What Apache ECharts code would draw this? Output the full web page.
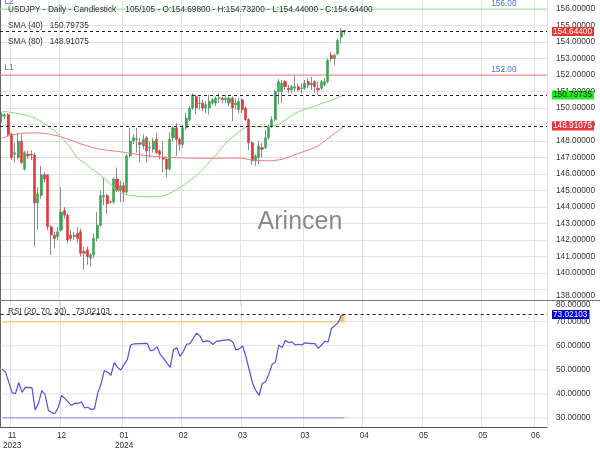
<!DOCTYPE html>
<html><head><meta charset="utf-8">
<script src="https://cdn.jsdelivr.net/npm/echarts@6/dist/echarts.min.js"></script>
<style>html,body{margin:0;padding:0;background:#fff}#c{width:600px;height:450px}</style>
</head><body><div id="c"></div>
<script>
// ---------- data ----------
const opens  = [149.5,149.5,149.6,148.4,147.2,147.0,148.0,146.3,147.2,147.2,147.15,144.25,144.7,145.95,145.95,142.8,142.3,142.2,142.6,143.8,143.5,142.3,142.2,142.4,142.5,141.3,141.4,140.9,141.1,142.1,142.9,144.6,144.7,144.32,144.3,145.7,145.0,145.3,144.9,147.1,148.0,148.1,147.9,147.7,148.2,147.6,147.5,148.1,147.4,147.0,146.9,146.3,148.2,148.8,148.1,147.8,148.8,149.3,150.0,150.7,150.28,150.3,150.0,150.0,150.3,150.3,150.58,150.6,150.5,150.3,150.6,150.2,149.9,150.5,150.0,149.3,147.9,146.8,147.0,147.6,147.6,148.2,148.9,149.3,151.0,151.0,151.6,151.2,151.1,151.2,151.3,151.18,151.2,151.6,151.4,151.6,151.2,151.2,151.4,151.6,153.2,153.0,153.3,154.3,154.698];
const closes = [149.6,149.6,148.4,147.0,147.3,148.0,146.7,147.3,147.1,147.15,144.25,144.8,145.95,145.7,142.8,142.3,142.1,142.5,143.7,143.5,142.0,142.1,142.3,142.1,141.2,141.2,141.0,141.1,142.1,142.9,144.7,144.7,144.2,144.3,145.7,145.0,145.3,144.9,147.1,148.0,148.2,148.15,147.8,148.1,147.4,147.65,148.0,147.3,147.2,146.9,146.3,148.1,148.8,148.1,147.8,148.8,149.4,150.0,150.8,150.0,150.3,150.0,150.2,150.4,150.5,150.6,150.62,150.5,150.6,150.6,150.0,150.3,150.4,149.9,149.3,147.9,146.8,147.1,147.7,147.5,148.2,148.9,149.3,151.0,151.6,151.5,151.3,151.1,151.3,151.3,151.1,151.22,151.5,151.4,151.5,151.3,151.1,151.6,151.6,152.9,153.0,153.2,154.1,154.7,154.644];
const lows   = [149.1,149.3,148.3,146.85,146.7,146.9,146.6,146.2,146.9,146.85,141.6,142.6,144.5,145.5,142.6,141.1,141.5,142.0,142.5,143.3,141.8,141.9,142.0,141.8,141.0,140.2,140.5,140.4,140.9,141.9,142.8,144.1,143.6,144.2,144.2,144.9,144.3,144.3,144.8,147.0,147.8,147.3,146.7,147.5,146.7,147.0,147.3,147.2,146.9,146.1,145.8,146.2,148.0,147.1,147.4,147.6,148.7,149.2,149.9,149.6,149.9,149.8,149.7,149.6,150.2,150.1,150.3,150.3,150.3,150.1,149.2,149.9,149.7,149.7,149.2,147.45,146.55,146.5,146.6,147.0,147.5,148.1,148.8,149.2,150.2,150.3,151.1,150.9,150.9,151.0,151.0,150.9,151.1,151.2,151.1,150.9,150.8,151.1,151.3,151.5,152.8,152.6,153.2,153.9,154.44];
const highs  = [149.75,149.7,149.7,148.5,147.9,148.5,148.4,147.4,147.4,147.45,147.3,145.2,146.5,146.1,146.0,142.9,142.5,142.8,145.2,144.0,143.6,142.6,142.5,142.8,142.7,141.6,141.6,141.2,142.4,143.7,145.0,145.8,144.8,144.4,145.8,146.4,145.6,145.5,147.2,148.8,148.4,148.8,148.2,148.4,148.3,148.0,148.2,148.5,147.5,148.0,147.0,148.5,148.9,149.1,148.2,149.0,149.7,150.1,150.9,150.8,150.7,150.5,150.4,150.8,150.6,150.7,150.9,150.7,150.8,150.7,150.7,150.6,150.6,150.6,150.1,149.4,148.0,147.2,148.0,147.9,148.7,149.0,149.5,151.1,151.75,151.7,151.7,151.4,151.4,152.0,151.5,151.5,151.7,151.8,151.9,151.7,151.6,151.7,151.8,153.0,153.4,153.3,154.2,154.85,154.732];

const sma40Idx = [0,9,14,18,21,23,25,27,30,32,35,37,40,45,49,52,56,60,65,68,72,75,81,84,87,90,95,100,104];
const sma40Val = [149.82,149.48,148.92,148.26,147.55,146.97,146.7,146.36,145.94,145.6,145.0,144.8,144.68,144.62,144.68,144.93,145.45,146.06,147.15,147.88,148.55,148.87,148.88,149.0,149.4,149.78,150.12,150.48,150.79735];
const sma80Idx = [0,3,9,13,18,25,30,36,45,53,63,72,76,80,85,90,95,97,100,102,104];
const sma80Val = [148.16,148.36,148.5,148.46,148.26,147.76,147.5,147.35,147.09,146.99,146.95,146.97,146.85,146.8,146.89,147.25,147.6,147.85,148.3,148.6,148.91075];

const rsiIdx = [0,1,3,4,5,6,7,9,10,11,12,13,14,15,16,17,18,19,21,22,23,24,25,26,27,28,29,30,31,32,33,34,35,36,38,39,40,44,45,46,47,48,49,51,52,53,54,55,56,57,59,60,61,62,63,64,65,67,69,70,71,72,73,74,76,77,78,79,80,81,82,83,84,85,86,87,88,89,90,91,92,94,95,96,97,98,99,100,101,102,103,104];
const rsiVal = [50.3,49.0,40.4,40.1,44.6,40.6,42.7,42.6,33.3,36.1,41.3,39.7,33.1,32.2,31.8,34.4,39.3,38.1,35.1,36.1,36.0,36.7,34.1,34.4,33.5,33.7,40.4,44.1,49.7,49.0,47.7,53.0,51.0,49.9,54.3,60.3,60.8,61.0,57.9,58.3,59.6,56.3,54.7,51.0,58.3,59.2,55.6,57.6,60.6,60.9,65.2,64.2,61.6,62.0,61.8,60.5,61.8,62.2,62.5,61.6,58.3,58.7,59.9,55.6,44.6,41.4,39.3,44.3,45.0,48.3,52.3,53.2,60.3,59.2,62.2,61.3,61.6,60.3,60.6,60.3,61.2,60.9,60.9,58.9,60.3,61.8,61.6,67.2,68.3,69.5,72.6,73.02103];

const SMA40_LAST = 150.79735, SMA80_LAST = 148.91075, RSI_LAST = 73.02103;
const LEVEL_L2 = 156.00, LEVEL_L1 = 152.00;
const RSI_UPPER = 70, RSI_LOWER = 30;

const N_CAT = 166;
const tickIdx  = [3, 18, 37, 55, 73, 92, 110, 128, 146, 162];
const tickText = ['11\n2023','12','01\n2024','02','03','03','04','05','05','06'];
const priceTicks = [139,140,141,142,143,144,145,146,147,148,149,150,151,152,153,154,155,156];
const rsiTicks = [30,40,50,60,70];
const PRICE_AXIS_MIN = 138, PRICE_AXIS_MAX = 156.55, PRICE_VISIBLE_MIN = 138.36;
const RSI_MIN = 26.2, RSI_MAX = 78.6;

// ---------- build ----------
const last = opens.length - 1;
const cats = Array.from({length: N_CAT}, (_, i) => String(i));
const tickSet = new Set(tickIdx);
const isTick = (i) => tickSet.has(i);
const candleData = opens.map((o, i) => [o, closes[i], lows[i], highs[i]]);
const bodyData = opens.map((o, i) => [o, closes[i], Math.min(o, closes[i]), Math.max(o, closes[i])]);
const zip = (a, b) => a.map((v, i) => [v, b[i]]);
const rsiPairs = zip(rsiIdx, rsiVal);
const obPairs = rsiPairs.filter(p => p[0] >= 102);

const FS = 8.25, TXT = '#333', FONT = '"Liberation Sans", Arial, sans-serif';
const GRID = '#e3e3e3', BLUE = '#4a6fdc';
const dash = {type: [3, 3], color: '#222', width: 1};
const tag = (bg, fg) => ({show: true, position: 'end', distance: 5, backgroundColor: bg, color: fg,
  fontSize: FS, fontFamily: FONT, padding: [1, 2, 0, 1], formatter: p => Number(p.value).toFixed(5)});
// split lines: 138 (hidden under the RSI panel edge) and the top edge are transparent
const nPriceLines = Math.floor(PRICE_AXIS_MAX) - PRICE_AXIS_MIN + 2;
const priceGridColors = Array.from({length: nPriceLines}, (_, k) => (k === 0 || k === nPriceLines - 1) ? 'rgba(0,0,0,0)' : GRID);

const title = 'USDJPY - Daily - Candlestick    ' + opens.length + '/' + opens.length +
  ' - O:' + opens[last].toFixed(5) + ' - H:' + highs[last].toFixed(5) +
  ' - L:' + lows[last].toFixed(5) + ' - C:' + closes[last].toFixed(5);

const txt = (x, y, text, color) => ({type: 'text', x, y, z: 10, silent: true,
  style: {text, fill: color || TXT, fontSize: FS, fontFamily: FONT, verticalAlign: 'middle'}});

// full-width horizontal rule on a hidden 0..1 x axis (xAxis 3 = RSI panel)
const hRule = (xi, yi, v, color) => ({type: 'line', xAxisIndex: xi, yAxisIndex: yi, z: 1, silent: true,
  data: [[0, v], [1, v]], showSymbol: false, lineStyle: {color, width: 1, type: 'solid', opacity: 1}});

const lvlLabel = (text, pos, dist, dy) => ({show: true, position: pos, distance: dist, offset: [0, dy],
  color: BLUE, fontSize: FS, fontFamily: FONT, formatter: text});
const levelSeries = (v, color, sideText) => ({type: 'line', xAxisIndex: 2, yAxisIndex: 0, z: 1, silent: true,
  symbol: 'rect', symbolSize: 1, showSymbol: true, showAllSymbol: true, clip: false,
  lineStyle: {color, width: 1, type: 'solid'}, itemStyle: {color: 'rgba(255,255,255,0)'},
  data: [
    {value: [0, v], label: lvlLabel(sideText, 'right', 4, -7)},
    {value: [1, v], label: lvlLabel(v.toFixed(2), 'left', 30, -5)}
  ]});

const chart = echarts.init(document.getElementById('c'), null, {renderer: 'canvas'});
chart.setOption({
  animation: false,
  textStyle: {fontFamily: FONT},
  grid: [
    // 156.55 at y=0 and 138 at y=306 (just under the RSI panel edge at 300)
    {left: 0, right: 53, top: 0, height: 306},
    {left: 0, right: 53, top: 301, height: 131}
  ],
  xAxis: [
    {type: 'category', gridIndex: 0, data: cats, boundaryGap: true,
     axisLine: {show: false}, axisTick: {show: false}, axisLabel: {show: false},
     splitLine: {show: true, interval: isTick, lineStyle: {color: GRID, width: 1}}},
    {type: 'category', gridIndex: 1, data: cats, boundaryGap: true,
     axisLine: {show: true, lineStyle: {color: '#555', width: 1}}, axisTick: {show: false},
     axisLabel: {interval: isTick, formatter: (v, i) => { const k = tickIdx.indexOf(i); return k >= 0 ? tickText[k] : ''; },
       fontSize: FS, color: TXT, lineHeight: 9.5, margin: 4},
     splitLine: {show: true, interval: isTick, lineStyle: {color: GRID, width: 1}}},
    {type: 'value', gridIndex: 0, min: 0, max: 1, show: false},
    {type: 'value', gridIndex: 1, min: 0, max: 1, show: false}
  ],
  yAxis: [
    {type: 'value', gridIndex: 0, position: 'right', min: PRICE_AXIS_MIN, max: PRICE_AXIS_MAX, interval: 1, z: 0,
     axisLine: {show: true, lineStyle: {color: '#666', width: 1}},
     axisTick: {show: false},
     axisLabel: {customValues: [PRICE_VISIBLE_MIN].concat(priceTicks), formatter: v => Math.round(v).toFixed(5),
       fontSize: FS, color: TXT, margin: 9, showMinLabel: true, hideOverlap: false, verticalAlignMinLabel: 'bottom'},
     splitLine: {show: true, lineStyle: {color: priceGridColors, width: 1}}},
    {type: 'value', gridIndex: 1, position: 'right', min: RSI_MIN, max: RSI_MAX, z: 0,
     axisLine: {show: true, lineStyle: {color: '#666', width: 1}},
     axisTick: {show: false},
     axisLabel: {customValues: rsiTicks.concat([RSI_MAX]), formatter: v => (Math.round(v / 10) * 10).toFixed(5),
       fontSize: FS, color: TXT, margin: 9, showMaxLabel: true, hideOverlap: false, verticalAlignMaxLabel: 'top'},
     splitLine: {show: false}}
  ],
  graphic: [
    {type: 'line', silent: true, z: 5, shape: {x1: 0, y1: 300.5, x2: 600, y2: 300.5}, style: {stroke: '#777', lineWidth: 1}},
    {type: 'text', x: 300, y: 222, z: 1, silent: true,
     style: {text: 'Arincen', fill: '#8a8a8a', fontSize: 25, fontFamily: FONT, align: 'center', verticalAlign: 'middle'}},
    txt(8, 10, title),
    txt(8, 25.7, 'SMA (40)   ' + SMA40_LAST.toFixed(5)),
    txt(8, 41.7, 'SMA (80)   ' + SMA80_LAST.toFixed(5)),
    txt(8, 311.7, 'RSI (20, 70, 30)    ' + RSI_LAST.toFixed(5))
  ],
  series: [].concat(
    rsiTicks.map(v => hRule(3, 1, v, GRID)),
    [
    levelSeries(LEVEL_L2, '#98e598', 'L2'),
    levelSeries(LEVEL_L1, '#ef8080', 'L1'),
    {type: 'candlestick', name: 'wick', xAxisIndex: 0, yAxisIndex: 0, data: candleData, barWidth: 1, silent: true, z: 2,
     itemStyle: {color: '#8c8c8c', color0: '#8c8c8c', borderColor: '#8c8c8c', borderColor0: '#8c8c8c', borderWidth: 1}},
    {type: 'candlestick', name: 'body', xAxisIndex: 0, yAxisIndex: 0, data: bodyData, barWidth: 2.6, silent: true, z: 3,
     itemStyle: {color: '#3aa655', color0: '#e0393c', borderColor: '#3aa655', borderColor0: '#e0393c', borderWidth: 0.6},
     markLine: {silent: true, symbol: ['none', 'none'], precision: 5, z: 10, lineStyle: dash,
       data: [{yAxis: closes[last], label: tag('#e53935', '#fff')}]}},
    {type: 'line', name: 'SMA80', xAxisIndex: 0, yAxisIndex: 0, data: zip(sma80Idx, sma80Val), smooth: 0.3, z: 4,
     showSymbol: false, silent: true, lineStyle: {color: '#ef7b7b', width: 1},
     markLine: {silent: true, symbol: ['none', 'none'], precision: 5, z: 10, lineStyle: dash,
       data: [{yAxis: SMA80_LAST, label: tag('#e8383d', '#fff')}]}},
    {type: 'line', name: 'SMA40', xAxisIndex: 0, yAxisIndex: 0, data: zip(sma40Idx, sma40Val), smooth: 0.3, z: 4,
     showSymbol: false, silent: true, lineStyle: {color: '#7edc6e', width: 1},
     markLine: {silent: true, symbol: ['none', 'none'], precision: 5, z: 10, lineStyle: dash,
       data: [{yAxis: SMA40_LAST, label: tag('#22ee22', '#1a1a1a')}]}},
    {type: 'line', name: 'upper', xAxisIndex: 1, yAxisIndex: 1, data: [[0, RSI_UPPER], [last, RSI_UPPER]], z: 1,
     showSymbol: false, silent: true, lineStyle: {color: '#f6d27e', width: 1.5}},
    {type: 'line', name: 'lower', xAxisIndex: 1, yAxisIndex: 1, data: [[0, RSI_LOWER], [last, RSI_LOWER]], z: 1,
     showSymbol: false, silent: true, lineStyle: {color: '#b9a3e6', width: 1.5}},
    {type: 'line', name: 'ob', xAxisIndex: 1, yAxisIndex: 1, data: obPairs, showSymbol: false, silent: true, z: 2,
     lineStyle: {width: 0}, areaStyle: {origin: RSI_UPPER, color: '#f8c766', opacity: 1}},
    {type: 'line', name: 'RSI', xAxisIndex: 1, yAxisIndex: 1, data: rsiPairs, showSymbol: false, silent: true, z: 3,
     lineStyle: {color: '#5252dc', width: 1.2},
     markLine: {silent: true, symbol: ['none', 'none'], precision: 5, z: 10, lineStyle: dash,
       data: [{yAxis: RSI_LAST, label: tag('#0000d0', '#fff')}]}}
    ])
});
</script>
</body></html>
